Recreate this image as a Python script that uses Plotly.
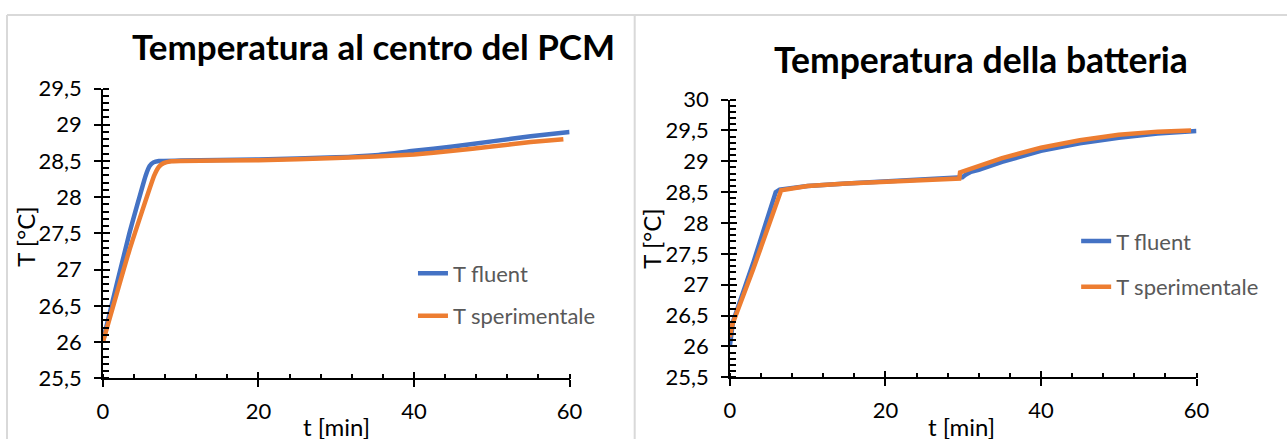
import plotly.graph_objects as go

# target picture size
W, H = 1287, 439
# measured page->picture transform of the viewer (scale and offset per axis)
SX, BX = 0.984, 7.2
SY, BY = 0.938, 13.7
FW = int(round((W - BX) / SX)) + 1
FH = int(round((H - BY) / SY)) + 1

# ---------------- data ----------------
# Left chart: Temperatura al centro del PCM
t_fluent_L = [0, 0.3, 3.35, 5.5, 6.0, 6.5, 7.2, 10, 20, 30, 35, 40, 45, 50, 55, 60]
T_fluent_L = [26.0, 26.15, 27.48, 28.30, 28.43, 28.48, 28.50, 28.505, 28.52, 28.55, 28.58, 28.64, 28.70, 28.77, 28.84, 28.90]
t_sper_L = [0, 3.35, 6.6, 7.2, 7.8, 8.8, 10, 20, 30, 35, 40, 45, 50, 55, 59.2]
T_sper_L = [26.0, 27.25, 28.30, 28.42, 28.47, 28.495, 28.50, 28.51, 28.54, 28.56, 28.59, 28.64, 28.70, 28.76, 28.80]

# Right chart: Temperatura della batteria
t_fluent_R = [0, 0.4, 3, 5.9, 6.4, 10, 15, 20, 25, 29.5, 29.9, 30.3, 31, 32, 35, 40, 45, 50, 55, 60]
T_fluent_R = [26.0, 26.4, 27.35, 28.50, 28.54, 28.60, 28.64, 28.67, 28.70, 28.73, 28.74, 28.78, 28.83, 28.86, 28.99, 29.17, 29.29, 29.38, 29.45, 29.49]
t_sper_R = [0, 0.3, 0.64, 3, 6.6, 10, 15, 20, 25, 29.5, 29.6, 30.5, 32, 35, 40, 45, 50, 55, 59.3]
T_sper_R = [26.15, 26.35, 26.46, 27.25, 28.53, 28.60, 28.64, 28.67, 28.70, 28.72, 28.82, 28.86, 28.92, 29.05, 29.22, 29.34, 29.43, 29.48, 29.50]

x_ticks = [0, 20, 40, 60]
y_ticks_L = [25.5, 26, 26.5, 27, 27.5, 28, 28.5, 29, 29.5]
y_ticks_R = [25.5, 26, 26.5, 27, 27.5, 28, 28.5, 29, 29.5, 30]
title_L = "Temperatura al centro del PCM"
title_R = "Temperatura della batteria"
series_names = ["T fluent", "T sperimentale"]

BLUE = "#4472C4"
ORANGE = "#ED7D31"
FONT = "Lato"

def fx(p):   # picture x -> figure px
    return (p - BX) / SX

def fy(p):   # picture y -> figure px
    return (p - BY) / SY

def px_x(p):
    return fx(p) / FW

def px_y(p):
    return 1 - fy(p) / FH

def fmt(v):
    return ("%g" % v).replace(".", ",")

fig = go.Figure()

fig.add_trace(go.Scatter(x=t_fluent_L, y=T_fluent_L, name=series_names[0], mode="lines",
                         line=dict(color=BLUE, width=4.5, shape="spline", smoothing=0.4),
                         xaxis="x", yaxis="y", legend="legend", legendgroup="a"))
fig.add_trace(go.Scatter(x=t_sper_L, y=T_sper_L, name=series_names[1], mode="lines",
                         line=dict(color=ORANGE, width=4.5, shape="spline", smoothing=0.4),
                         xaxis="x", yaxis="y", legend="legend", legendgroup="b"))
fig.add_trace(go.Scatter(x=t_fluent_R, y=T_fluent_R, name=series_names[0], mode="lines",
                         line=dict(color=BLUE, width=4.5),
                         xaxis="x2", yaxis="y2", legend="legend2", legendgroup="c"))
fig.add_trace(go.Scatter(x=t_sper_R, y=T_sper_R, name=series_names[1], mode="lines",
                         line=dict(color=ORANGE, width=4.5),
                         xaxis="x2", yaxis="y2", legend="legend2", legendgroup="d"))

fig.add_trace(go.Scatter(x=[None], y=[None], xaxis="x3", yaxis="y3", showlegend=False, hoverinfo="skip"))
fig.add_trace(go.Scatter(x=[None], y=[None], xaxis="x4", yaxis="y4", showlegend=False, hoverinfo="skip"))

tickfont = dict(family=FONT, size=22, color="#000000")

dom_xL = [px_x(104), px_x(570)]
dom_yL = [px_y(377), px_y(88)]
dom_xR = [px_x(730), px_x(1196)]
dom_yR = [px_y(376), px_y(99)]

def xaxis_main(domain, anchor):
    return dict(domain=domain, anchor=anchor, range=[0, 60], showgrid=False, zeroline=False,
                showline=True, linecolor="#000000", linewidth=1.5,
                tickmode="array", tickvals=x_ticks, ticktext=[fmt(v) for v in x_ticks],
                ticks="outside", ticklen=7, tickwidth=1.5, tickcolor="#000000",
                ticklabelstandoff=6, tickfont=tickfont,
                minor=dict(dtick=4, tick0=0, ticks="inside", ticklen=5, tickwidth=1.5,
                           tickcolor="#000000", showgrid=False))

def yaxis_main(domain, anchor, rng, ticks):
    return dict(domain=domain, anchor=anchor, range=rng, showgrid=False, zeroline=False,
                showline=True, linecolor="#000000", linewidth=1.5,
                tickmode="array", tickvals=ticks, ticktext=[fmt(v) for v in ticks],
                ticks="outside", ticklen=7, tickwidth=1.5, tickcolor="#000000",
                ticklabelstandoff=8, tickfont=tickfont,
                minor=dict(dtick=0.1, tick0=25.5, ticks="inside", ticklen=6, tickwidth=1.5,
                           tickcolor="#000000", showgrid=False))

def xaxis_over(base, anchor):
    return dict(overlaying=base, anchor=anchor, range=[0, 60], showgrid=False, zeroline=False,
                showline=False, tickmode="array", tickvals=x_ticks, showticklabels=False,
                ticks="inside", ticklen=6, tickwidth=1.5, tickcolor="#000000")

def yaxis_over(base, anchor, rng, ticks):
    return dict(overlaying=base, anchor=anchor, range=rng, showgrid=False, zeroline=False,
                showline=False, tickmode="array", tickvals=ticks, showticklabels=False,
                ticks="inside", ticklen=7, tickwidth=1.5, tickcolor="#000000")

border = "#d9d9d9"
top_y = min(px_y(10), 1 - 1.0 / FH)
left_x = max(px_x(5), 1.0 / FW)
shapes = [
    dict(type="line", xref="paper", yref="paper", x0=left_x, x1=1, y0=top_y, y1=top_y,
         line=dict(color=border, width=2)),
    dict(type="line", xref="paper", yref="paper", x0=left_x, x1=left_x, y0=top_y, y1=0,
         line=dict(color=border, width=2)),
    dict(type="line", xref="paper", yref="paper", x0=px_x(635), x1=px_x(635), y0=top_y, y1=0,
         line=dict(color=border, width=2)),
]

def ann(text, x, y, size, bold=False, angle=0, color="#000000"):
    return dict(text=("<b>%s</b>" % text) if bold else text, xref="paper", yref="paper",
                x=px_x(x), y=px_y(y), xanchor="center", yanchor="middle", showarrow=False,
                textangle=angle, font=dict(family=FONT, size=size, color=color))

annotations = [
    ann(title_L, 374, 46, 35, bold=True),
    ann(title_R, 981, 59, 35.5, bold=True),
    ann("T [°C]", 27, 236, 24, angle=-90),
    ann("T [°C]", 652, 238, 24, angle=-90),
    ann("t [min]", 337, 425, 24),
    ann("t [min]", 961, 425, 24),
]

legend_font = dict(family=FONT, size=22, color="#595959")

fig.update_layout(
    width=FW, height=FH, margin=dict(l=0, r=0, t=0, b=0),
    paper_bgcolor="#ffffff", plot_bgcolor="rgba(0,0,0,0)",
    separators=", ",
    showlegend=True,
    xaxis=xaxis_main(dom_xL, "y"),
    yaxis=yaxis_main(dom_yL, "x", [25.5, 29.5], y_ticks_L),
    xaxis2=xaxis_main(dom_xR, "y2"),
    yaxis2=yaxis_main(dom_yR, "x2", [25.5, 30], y_ticks_R),
    xaxis3=xaxis_over("x", "y3"),
    yaxis3=yaxis_over("y", "x3", [25.5, 29.5], y_ticks_L),
    xaxis4=xaxis_over("x2", "y4"),
    yaxis4=yaxis_over("y2", "x4", [25.5, 30], y_ticks_R),
    legend=dict(x=413 / FW, y=1 - 253.4 / FH, xanchor="left", yanchor="top", font=legend_font,
                bgcolor="rgba(0,0,0,0)", tracegroupgap=11, itemwidth=30),
    legend2=dict(x=1086 / FW, y=1 - 219.3 / FH, xanchor="left", yanchor="top", font=legend_font,
                 bgcolor="rgba(0,0,0,0)", tracegroupgap=14, itemwidth=30),
    shapes=shapes,
    annotations=annotations,
)

fig.write_html("out.html")
